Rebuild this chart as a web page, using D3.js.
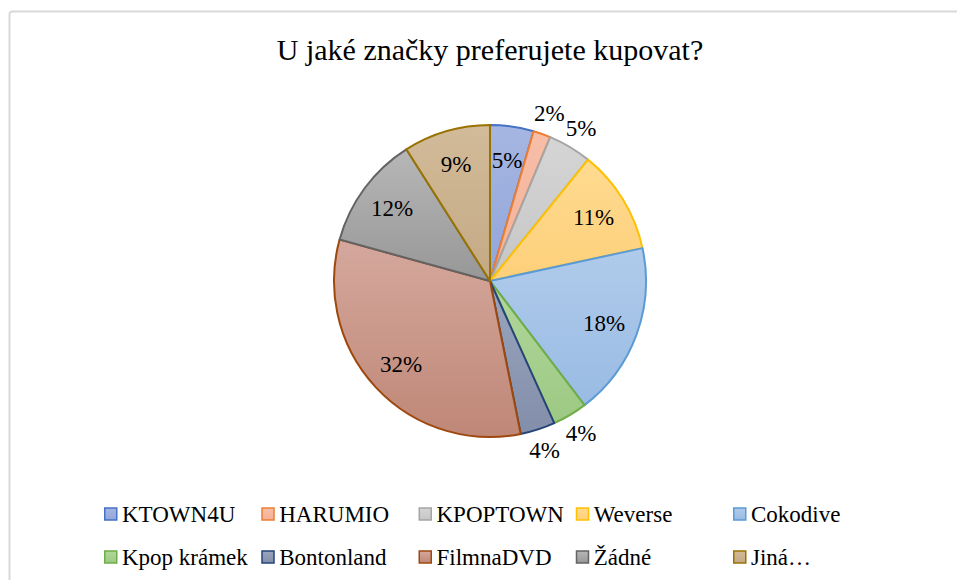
<html>
<head>
<script src="https://cdnjs.cloudflare.com/ajax/libs/d3/7.8.5/d3.min.js"></script>
<style>
body { margin: 0; background: #fff; }
svg { display: block; }
.frame { fill: none; stroke: #d9d9d9; stroke-width: 2; }
.title { font-size: 30px; fill: #000; }
.pct { font-size: 23px; fill: #000; }
.legend text { font-size: 23px; fill: #000; }
</style>
</head>
<body>
<svg></svg>
<script>

// chart data
var titleText = 'U jaké značky preferujete kupovat?';
var categories = ['KTOWN4U', 'HARUMIO', 'KPOPTOWN', 'Weverse', 'Cokodive',
                  'Kpop krámek', 'Bontonland', 'FilmnaDVD', 'Žádné', 'Jiná…'];
var counts = [5, 2, 5, 12, 20, 4, 4, 36, 13, 10];
// Excel "best fit" put these labels outside the pie
var labelOutside = [false, true, true, false, false, true, true, false, false, false];
var colors = ['#4472C4', '#ED7D31', '#A5A5A5', '#FFC000', '#5B9BD5',
              '#70AD47', '#264478', '#9E480E', '#636363', '#997300'];
// gradient fills, top / bottom
var fillTop = ['#a6b6e2', '#f7bea8', '#d5d5d5', '#ffda90', '#b0cbeb',
               '#b2d79c', '#9aa5bf', '#d5a89d', '#b7b7b7', '#d2bb99'];
var fillBottom = ['#91a6d9', '#f3b196', '#c6c6c6', '#fdd07a', '#99bbe3',
                  '#9cc983', '#838eaa', '#bf8777', '#979797', '#c4a984'];

var serif = "'Liberation Serif', 'Times New Roman', Times, 'Noto Serif', 'DejaVu Serif', serif";

var width = 957,
    height = 580,
    cx = 490,
    cy = 281,
    radius = 156;

var svg = d3.select('svg')
  .attr('width', width)
  .attr('height', height)
  .style('font-family', serif);

// chart area border (runs off the right and bottom)
svg.append('rect')
  .attr('class', 'frame')
  .attr('x', 9.5)
  .attr('y', 11.5)
  .attr('width', 1000)
  .attr('height', 1000)
  .attr('rx', 3);

svg.append('text')
  .attr('class', 'title')
  .attr('x', cx)
  .attr('y', 60)
  .attr('text-anchor', 'middle')
  .attr('font-family', serif)
  .text(titleText);

var defs = svg.append('defs');

var grads = defs.selectAll('linearGradient')
    .data(colors)
  .enter().append('linearGradient')
    .attr('id', function(d, i) { return 'g' + i; })
    .attr('x1', 0).attr('y1', 0)
    .attr('x2', 0).attr('y2', 1);
grads.append('stop').attr('offset', '0%')
  .attr('stop-color', function(d, i) { return fillTop[i]; });
grads.append('stop').attr('offset', '100%')
  .attr('stop-color', function(d, i) { return fillBottom[i]; });

var total = d3.sum(counts);
var fmt = d3.format('.0%');

var pie = d3.pie().sort(null).value(function(d) { return d; });
var arcs = pie(counts);

var arc = d3.arc().innerRadius(0).outerRadius(radius);
var inLabel = d3.arc().innerRadius(radius * 0.78).outerRadius(radius * 0.78);
var outLabel = d3.arc().innerRadius(radius + 22).outerRadius(radius + 22);

var g = svg.append('g')
  .attr('transform', 'translate(' + cx + ',' + cy + ')');

g.selectAll('path')
    .data(arcs)
  .enter().append('path')
    .attr('d', arc)
    .attr('fill', function(d, i) { return 'url(#g' + i + ')'; })
    .attr('stroke', function(d, i) { return colors[i]; })
    .attr('stroke-width', 2)
    .attr('stroke-linejoin', 'round');

g.selectAll('text')
    .data(arcs)
  .enter().append('text')
    .attr('class', 'pct')
    .attr('font-family', serif)
    .attr('transform', function(d, i) {
      var p = labelOutside[i] ? outLabel.centroid(d) : inLabel.centroid(d);
      return 'translate(' + p + ')';
    })
    .attr('text-anchor', 'middle')
    .attr('dy', '0.33em')
    .text(function(d) { return fmt(d.value / total); });

// legend: 5 columns, 2 rows
var cols = 5;
var colX = d3.scaleLinear().domain([0, cols]).range([104, 104 + cols * 157.25]);
var rowY = d3.scaleLinear().domain([0, 1]).range([514, 557]);

var legend = svg.append('g').attr('class', 'legend');

var item = legend.selectAll('g')
    .data(categories)
  .enter().append('g')
    .attr('transform', function(d, i) {
      return 'translate(' + colX(i % cols) + ',' + rowY(Math.floor(i / cols)) + ')';
    });

item.append('rect')
  .attr('x', 0.75)
  .attr('y', -6)
  .attr('width', 12)
  .attr('height', 12)
  .attr('fill', function(d, i) { return 'url(#g' + i + ')'; })
  .attr('stroke', function(d, i) { return colors[i]; })
  .attr('stroke-width', 1.5);

item.append('text')
  .attr('x', 18)
  .attr('dy', '0.33em')
  .attr('font-family', serif)
  .text(function(d) { return d; });

</script>
</body>
</html>
